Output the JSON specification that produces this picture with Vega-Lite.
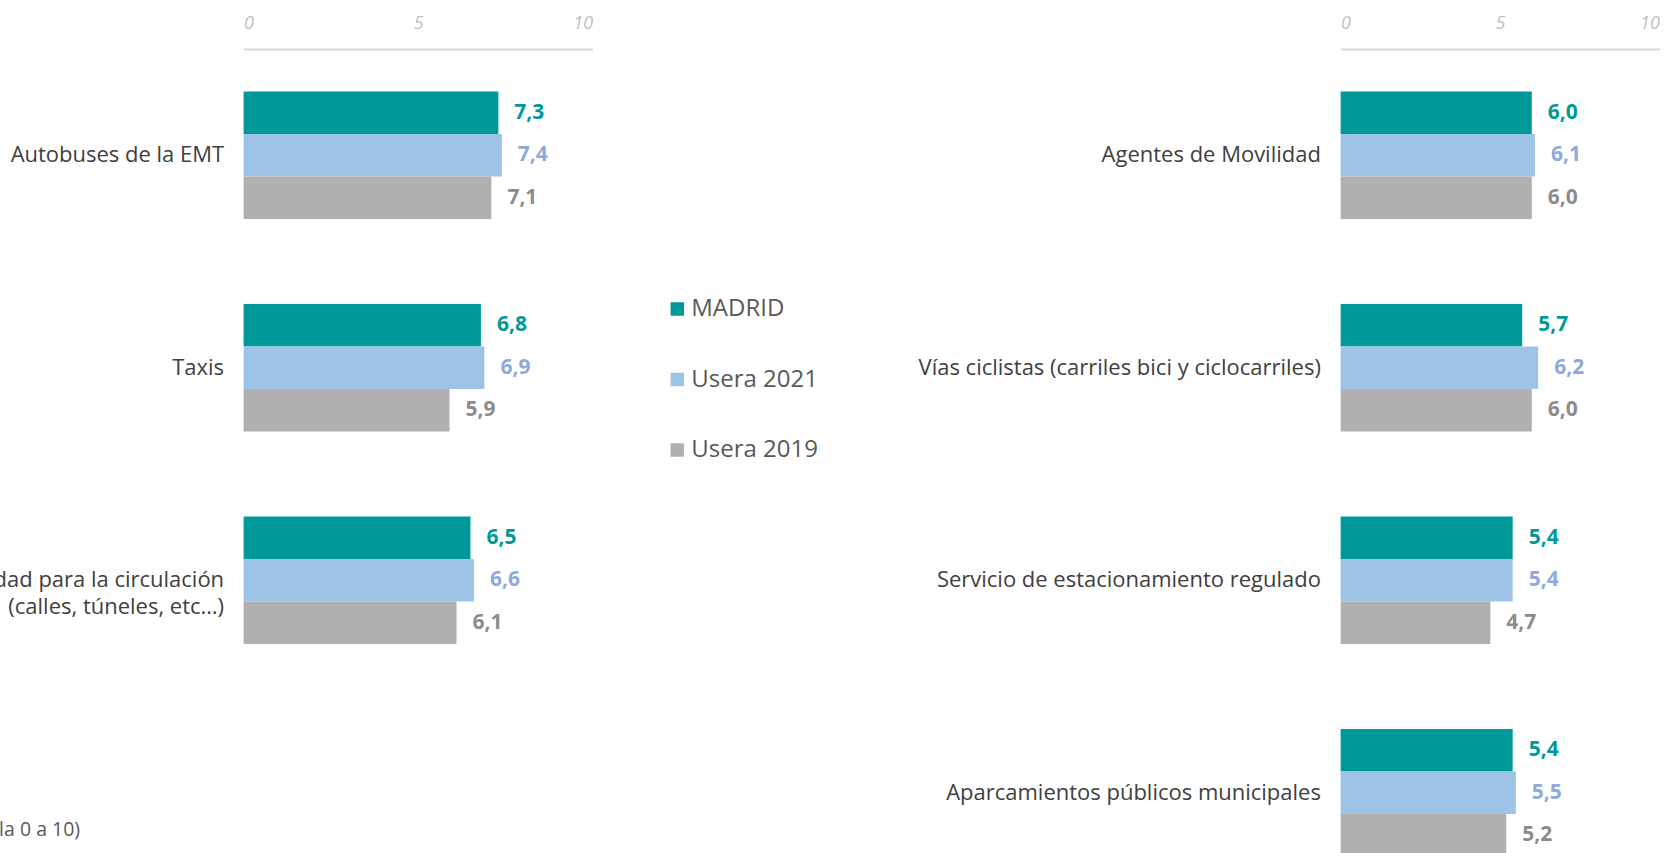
{
  "$schema": "https://vega.github.io/schema/vega-lite/v6.json",
  "padding": {"left": -58.4, "top": 14, "right": 0, "bottom": 0},
  "bounds": "flush",
  "spacing": 747.8,
  "background": "white",
  "data": {
    "values": [
      {"panel": "A", "item": "Autobuses de la EMT", "serie": "MADRID", "valor": 7.3},
      {"panel": "A", "item": "Autobuses de la EMT", "serie": "Usera 2021", "valor": 7.4},
      {"panel": "A", "item": "Autobuses de la EMT", "serie": "Usera 2019", "valor": 7.1},
      {"panel": "A", "item": "Taxis", "serie": "MADRID", "valor": 6.8},
      {"panel": "A", "item": "Taxis", "serie": "Usera 2021", "valor": 6.9},
      {"panel": "A", "item": "Taxis", "serie": "Usera 2019", "valor": 5.9},
      {"panel": "A", "item": "Facilidad para la circulación|(calles, túneles, etc…)   ", "serie": "MADRID", "valor": 6.5},
      {"panel": "A", "item": "Facilidad para la circulación|(calles, túneles, etc…)   ", "serie": "Usera 2021", "valor": 6.6},
      {"panel": "A", "item": "Facilidad para la circulación|(calles, túneles, etc…)   ", "serie": "Usera 2019", "valor": 6.1},
      {"panel": "B", "item": "Agentes de Movilidad", "serie": "MADRID", "valor": 6.0},
      {"panel": "B", "item": "Agentes de Movilidad", "serie": "Usera 2021", "valor": 6.1},
      {"panel": "B", "item": "Agentes de Movilidad", "serie": "Usera 2019", "valor": 6.0},
      {"panel": "B", "item": "Vías ciclistas (carriles bici y ciclocarriles)", "serie": "MADRID", "valor": 5.7},
      {"panel": "B", "item": "Vías ciclistas (carriles bici y ciclocarriles)", "serie": "Usera 2021", "valor": 6.2},
      {"panel": "B", "item": "Vías ciclistas (carriles bici y ciclocarriles)", "serie": "Usera 2019", "valor": 6.0},
      {"panel": "B", "item": "Servicio de estacionamiento regulado", "serie": "MADRID", "valor": 5.4},
      {"panel": "B", "item": "Servicio de estacionamiento regulado", "serie": "Usera 2021", "valor": 5.4},
      {"panel": "B", "item": "Servicio de estacionamiento regulado", "serie": "Usera 2019", "valor": 4.7},
      {"panel": "B", "item": "Aparcamientos públicos municipales", "serie": "MADRID", "valor": 5.4},
      {"panel": "B", "item": "Aparcamientos públicos municipales", "serie": "Usera 2021", "valor": 5.5},
      {"panel": "B", "item": "Aparcamientos públicos municipales", "serie": "Usera 2019", "valor": 5.2}
    ]
  },
  "resolve": {
    "scale": {"color": "independent", "x": "independent", "y": "independent"},
    "legend": {"color": "independent"}
  },
  "hconcat": [
    {
      "width": 349,
      "height": 637.5,
      "transform": [{"filter": "datum.panel === 'A'"}],
      "title": {
        "text": "(Escala 0 a 10)",
        "orient": "bottom",
        "anchor": "start",
        "frame": "group",
        "dx": -290.5,
        "offset": 135,
        "fontSize": 19.5,
        "fontWeight": "normal",
        "color": "#595959"
      },
      "encoding": {
        "y": {
          "field": "item",
          "type": "nominal",
          "sort": ["Autobuses de la EMT", "Taxis", "Facilidad para la circulación|(calles, túneles, etc…)   "],
          "scale": {"paddingInner": 0.4, "paddingOuter": 0.2},
          "axis": {
            "title": null,
            "domain": false,
            "ticks": false,
            "labelPadding": 20,
            "labelFontSize": 22,
            "labelColor": "#404040",
            "labelLimit": 700,
            "labelLineHeight": 27,
            "labelExpr": "split(datum.label, '|')"
          }
        },
        "yOffset": {"field": "serie", "type": "nominal", "sort": ["MADRID", "Usera 2021", "Usera 2019"]},
        "x": {
          "field": "valor",
          "type": "quantitative",
          "scale": {"domain": [0, 10]},
          "axis": {
            "orient": "top",
            "values": [0, 5, 10],
            "title": null,
            "ticks": false,
            "grid": false,
            "labelFontStyle": "italic",
            "labelFontSize": 18,
            "labelColor": "#BFBFBF",
            "labelPadding": 17,
            "domainColor": "#D9D9D9",
            "domainWidth": 2
          }
        }
      },
      "layer": [
        {
          "mark": {"type": "bar"},
          "encoding": {
            "color": {
              "field": "serie",
              "type": "nominal",
              "scale": {"domain": ["MADRID", "Usera 2021", "Usera 2019"], "range": ["#009999", "#9DC3E6", "#B0B0B0"]},
              "legend": {
                "orient": "none",
                "legendX": 421.7,
                "legendY": 248,
                "title": null,
                "symbolType": "square",
                "symbolSize": 182,
                "symbolStrokeWidth": 0,
                "labelFontSize": 24,
                "labelColor": "#595959",
                "labelOffset": 2,
                "rowPadding": 46.5,
                "padding": 0
              }
            }
          }
        },
        {
          "mark": {"type": "text", "dx": 16, "align": "left", "baseline": "middle", "fontWeight": "bold", "fontSize": 21},
          "encoding": {
            "text": {"field": "valor", "type": "quantitative", "format": ".1f"},
            "color": {
              "field": "serie",
              "type": "nominal",
              "scale": {"domain": ["MADRID", "Usera 2021", "Usera 2019"], "range": ["#009999", "#8EA9DB", "#8C8C8C"]},
              "legend": null
            }
          }
        }
      ],
      "resolve": {"scale": {"color": "independent"}, "legend": {"color": "independent"}}
    },
    {
      "width": 319,
      "height": 804,
      "transform": [{"filter": "datum.panel === 'B'"}],
      "encoding": {
        "y": {
          "field": "item",
          "type": "nominal",
          "sort": ["Agentes de Movilidad", "Vías ciclistas (carriles bici y ciclocarriles)", "Servicio de estacionamiento regulado", "Aparcamientos públicos municipales"],
          "scale": {"paddingInner": 0.4, "paddingOuter": 0.2, "range": [0, 850]},
          "axis": {
            "title": null,
            "domain": false,
            "ticks": false,
            "labelPadding": 20,
            "labelFontSize": 22,
            "labelColor": "#404040",
            "labelLimit": 700
          }
        },
        "yOffset": {"field": "serie", "type": "nominal", "sort": ["MADRID", "Usera 2021", "Usera 2019"]},
        "x": {
          "field": "valor",
          "type": "quantitative",
          "scale": {"domain": [0, 10]},
          "axis": {
            "orient": "top",
            "values": [0, 5, 10],
            "title": null,
            "ticks": false,
            "grid": false,
            "labelFontStyle": "italic",
            "labelFontSize": 18,
            "labelColor": "#BFBFBF",
            "labelPadding": 17,
            "domainColor": "#D9D9D9",
            "domainWidth": 2
          }
        }
      },
      "layer": [
        {
          "mark": {"type": "bar", "clip": true},
          "encoding": {
            "color": {
              "field": "serie",
              "type": "nominal",
              "scale": {"domain": ["MADRID", "Usera 2021", "Usera 2019"], "range": ["#009999", "#9DC3E6", "#B0B0B0"]},
              "legend": null
            }
          }
        },
        {
          "mark": {"type": "text", "clip": true, "dx": 16, "align": "left", "baseline": "middle", "fontWeight": "bold", "fontSize": 21},
          "encoding": {
            "text": {"field": "valor", "type": "quantitative", "format": ".1f"},
            "color": {
              "field": "serie",
              "type": "nominal",
              "scale": {"domain": ["MADRID", "Usera 2021", "Usera 2019"], "range": ["#009999", "#8EA9DB", "#8C8C8C"]},
              "legend": null
            }
          }
        }
      ],
      "resolve": {"scale": {"color": "independent"}, "legend": {"color": "independent"}}
    }
  ],
  "config": {
    "font": "Open Sans",
    "view": {"stroke": null},
    "locale": {
      "number": {"decimal": ",", "thousands": ".", "grouping": [3], "currency": ["", " €"]}
    }
  }
}
